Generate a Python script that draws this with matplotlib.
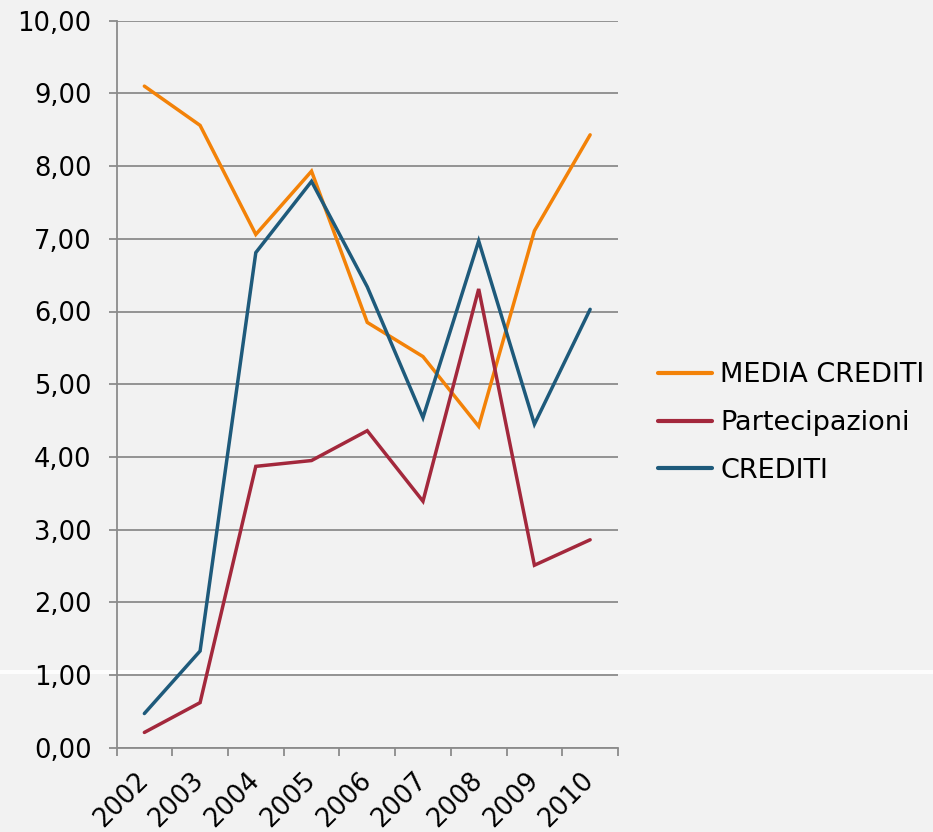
import matplotlib
matplotlib.use("Agg")
import matplotlib.pyplot as plt
from matplotlib.ticker import FuncFormatter, FixedLocator
from matplotlib.lines import Line2D

years = ["2002", "2003", "2004", "2005", "2006", "2007", "2008", "2009", "2010"]
media_crediti = [9.10, 8.56, 7.06, 7.93, 5.85, 5.38, 4.42, 7.11, 8.43]
partecipazioni = [0.21, 0.62, 3.87, 3.95, 4.36, 3.39, 6.31, 2.51, 2.86]
crediti = [0.47, 1.33, 6.81, 7.79, 6.34, 4.54, 6.97, 4.45, 6.03]

series_names = ["MEDIA CREDITI", "Partecipazioni", "CREDITI"]
colors = ["#F38208", "#A3283C", "#1E5A7B"]

W, H = 933, 832
fig = plt.figure(figsize=(W / 100, H / 100), dpi=100, facecolor="#F2F2F2")
ax = fig.add_axes([116.5 / W, 1 - 747.7 / H, (618 - 116.5) / W, (747.7 - 20.7) / H])
ax.set_facecolor("none")

# white streak artifact across the image
fig.add_artist(Line2D([0, 1], [1 - 672 / H, 1 - 672 / H], transform=fig.transFigure,
                      color="white", lw=3, alpha=0.85, zorder=-1))

x = list(range(len(years)))
for vals, name, c in zip([media_crediti, partecipazioni, crediti], series_names, colors):
    ax.plot(x, vals, color=c, lw=2.5, label=name, solid_capstyle="round",
            solid_joinstyle="miter", zorder=3)

ax.set_xlim(-0.5, len(years) - 0.5)
ax.set_ylim(0, 10)
ax.set_yticks([i for i in range(0, 11)])
ax.yaxis.set_major_formatter(FuncFormatter(lambda v, p: f"{v:.2f}".replace(".", ",")))
ax.grid(axis="y", color="#8C8C8C", lw=1.3, zorder=1)
ax.set_axisbelow(True)

ax.set_xticks(x)
ax.set_xticklabels(years, rotation=45, ha="right", va="center", rotation_mode="anchor")
ax.xaxis.set_minor_locator(FixedLocator([i - 0.5 for i in range(len(years) + 1)]))
ax.tick_params(axis="x", which="major", length=0, pad=21, labelsize=18.5)
ax.tick_params(axis="x", which="minor", length=6, width=1.3, color="#8C8C8C")
ax.tick_params(axis="y", length=6, width=1.3, color="#8C8C8C", pad=12, labelsize=18.5)

for s in ["top", "right"]:
    ax.spines[s].set_visible(False)
for s in ["left", "bottom"]:
    ax.spines[s].set_color("#8C8C8C")
    ax.spines[s].set_linewidth(1.3)

leg = fig.legend(loc="center left", bbox_to_anchor=(658 / W, 1 - 423 / H), frameon=False,
                 fontsize=19.5, handlelength=2.0, handletextpad=0.3, labelspacing=0.8,
                 borderpad=0, borderaxespad=0)
for l in leg.get_lines():
    l.set_linewidth(3)

fig.savefig("out.png", dpi=100, facecolor=fig.get_facecolor())
